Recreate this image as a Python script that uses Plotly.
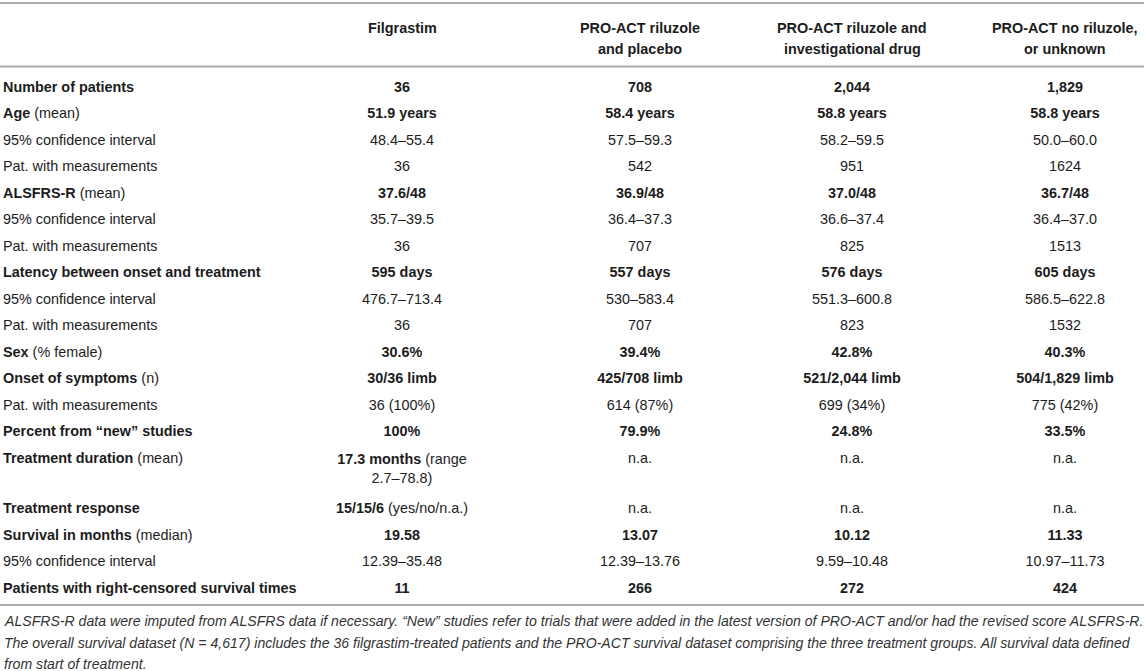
import plotly.graph_objects as go

# column headers (first line, second line)
header_top = ["Filgrastim", "PRO-ACT riluzole", "PRO-ACT riluzole and", "PRO-ACT no riluzole,"]
header_bottom = ["", "and placebo", "investigational drug", "or unknown"]

# row labels (bold part, plain part)
row_labels = [
    ("Number of patients", ""),
    ("Age", " (mean)"),
    ("", "95% confidence interval"),
    ("", "Pat. with measurements"),
    ("ALSFRS-R", " (mean)"),
    ("", "95% confidence interval"),
    ("", "Pat. with measurements"),
    ("Latency between onset and treatment", ""),
    ("", "95% confidence interval"),
    ("", "Pat. with measurements"),
    ("Sex", " (% female)"),
    ("Onset of symptoms", " (n)"),
    ("", "Pat. with measurements"),
    ("Percent from \u201cnew\u201d studies", ""),
    ("Treatment duration", " (mean)"),
    ("Treatment response", ""),
    ("Survival in months", " (median)"),
    ("", "95% confidence interval"),
    ("Patients with right-censored survival times", ""),
]

filgrastim = ["<b>36</b>", "<b>51.9 years</b>", "48.4\u201355.4", "36",
              "<b>37.6/48</b>", "35.7\u201339.5", "36",
              "<b>595 days</b>", "476.7\u2013713.4", "36",
              "<b>30.6%</b>", "<b>30/36 limb</b>", "36 (100%)",
              "<b>100%</b>", "<b>17.3 months</b> (range<br>2.7\u201378.8)",
              "<b>15/15/6</b> (yes/no/n.a.)", "<b>19.58</b>", "12.39\u201335.48",
              "<b>11</b>"]
riluzole_placebo = ["<b>708</b>", "<b>58.4 years</b>", "57.5\u201359.3", "542",
                    "<b>36.9/48</b>", "36.4\u201337.3", "707",
                    "<b>557 days</b>", "530\u2013583.4", "707",
                    "<b>39.4%</b>", "<b>425/708 limb</b>", "614 (87%)",
                    "<b>79.9%</b>", "n.a.", "n.a.", "<b>13.07</b>", "12.39\u201313.76",
                    "<b>266</b>"]
riluzole_drug = ["<b>2,044</b>", "<b>58.8 years</b>", "58.2\u201359.5", "951",
                 "<b>37.0/48</b>", "36.6\u201337.4", "825",
                 "<b>576 days</b>", "551.3\u2013600.8", "823",
                 "<b>42.8%</b>", "<b>521/2,044 limb</b>", "699 (34%)",
                 "<b>24.8%</b>", "n.a.", "n.a.", "<b>10.12</b>", "9.59\u201310.48",
                 "<b>272</b>"]
no_riluzole = ["<b>1,829</b>", "<b>58.8 years</b>", "50.0\u201360.0", "1624",
               "<b>36.7/48</b>", "36.4\u201337.0", "1513",
               "<b>605 days</b>", "586.5\u2013622.8", "1532",
               "<b>40.3%</b>", "<b>504/1,829 limb</b>", "775 (42%)",
               "<b>33.5%</b>", "n.a.", "n.a.", "<b>11.33</b>", "10.97\u201311.73",
               "<b>424</b>"]

footnote_lines = [
    "ALSFRS-R data were imputed from ALSFRS data if necessary. \u201cNew\u201d studies refer to trials that were added "
    "in the latest version of PRO-ACT and/or had the revised score ALSFRS-R.",
    "The overall survival dataset (N = 4,617) includes the 36 filgrastim-treated patients and the PRO-ACT "
    "survival dataset comprising the three treatment groups. All survival data defined",
    "from start of treatment.",
]

W, H = 1144, 671
col_x = [402, 640, 852, 1065]
FONT = "Liberation Sans, Arial, sans-serif"
TXT = "#1c1c1c"
columns = [filgrastim, riluzole_placebo, riluzole_drug, no_riluzole]

# row centres: fixed step, extra room for wrapped cells
row_y = []
y = 88
for i in range(len(row_labels)):
    row_y.append(y)
    extra = max(c[i].count("<br>") for c in columns)
    y += 26.5 + extra * 24

fig = go.Figure()

# label column
labels = ["<b>%s</b>%s" % (b, p) if b else p for b, p in row_labels]
fig.add_trace(go.Scatter(x=[3] * len(labels), y=row_y, mode="text", text=labels,
                         textposition="middle right",
                         textfont=dict(family=FONT, size=14.4, color=TXT),
                         hoverinfo="skip"))

# value columns
for cx, col in zip(col_x, columns):
    ys = [yy + 11 * c.count("<br>") for yy, c in zip(row_y, col)]
    fig.add_trace(go.Scatter(x=[cx] * len(col), y=ys, mode="text", text=col,
                             textposition="middle center",
                             textfont=dict(family=FONT, size=14.4, color=TXT),
                             hoverinfo="skip"))

# headers
for cx, h1, h2 in zip(col_x, header_top, header_bottom):
    for yy, h in [(28, h1), (49, h2)]:
        if h:
            fig.add_annotation(x=cx, y=yy, yanchor="middle", text="<b>%s</b>" % h,
                               showarrow=False,
                               font=dict(family=FONT, size=14.4, color=TXT))

# rules
for yy in [3, 66.5, 605]:
    fig.add_shape(type="line", x0=0, x1=W, y0=yy, y1=yy,
                  line=dict(color="#ababab", width=2))

# footnote
for yy, line in zip([621, 643, 663.5], footnote_lines):
    fig.add_annotation(x=2, y=yy, xanchor="left", yanchor="middle",
                       text="<i>%s</i>" % line.replace("(N =", "(<i>N</i> ="),
                       showarrow=False, align="left",
                       font=dict(family=FONT, size=14.1, color="#333333"))

fig.update_layout(width=W, height=H, margin=dict(l=0, r=0, t=0, b=0),
                  plot_bgcolor="white", paper_bgcolor="white", showlegend=False,
                  xaxis=dict(range=[0, W], visible=False, fixedrange=True),
                  yaxis=dict(range=[H, 0], visible=False, fixedrange=True))

fig.write_html("out.html", config={"displayModeBar": False},
               post_script="document.body.style.margin='0';")
